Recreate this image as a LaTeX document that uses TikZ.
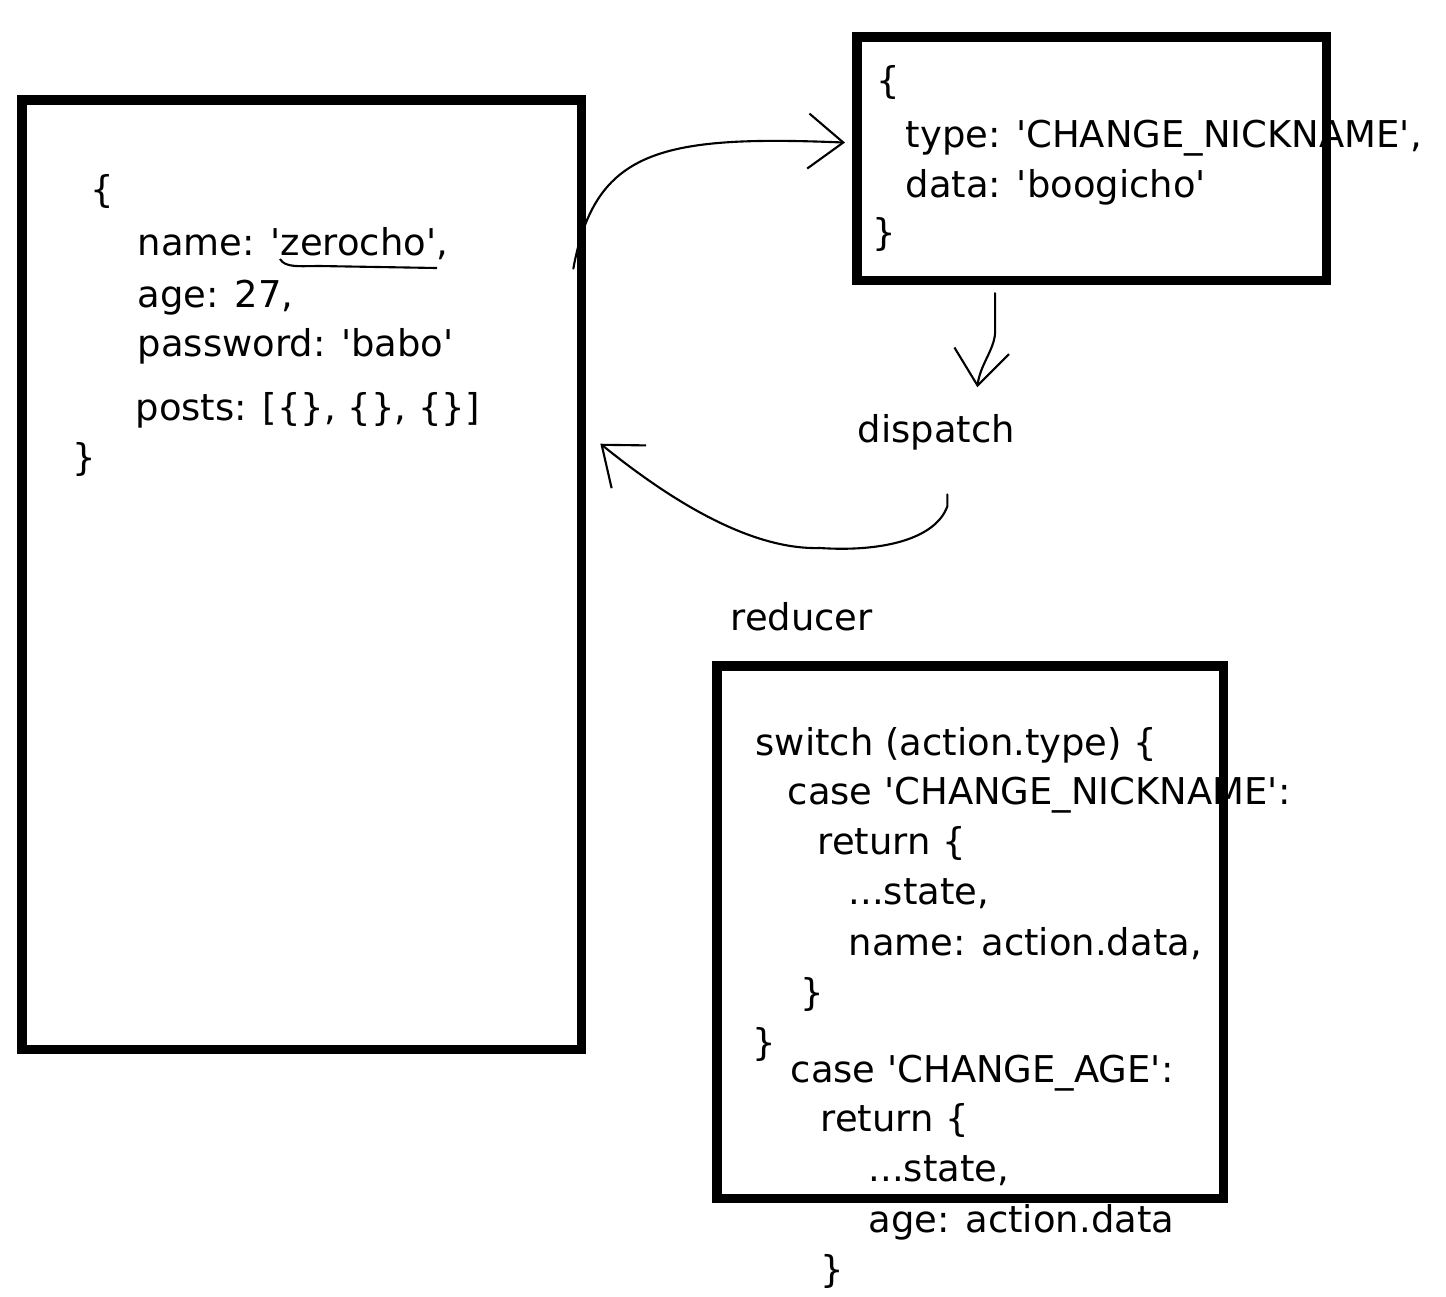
\documentclass[tikz,border=0pt]{standalone}
\usepackage{fontspec}
\newfontfamily\codefont{DejaVu Sans}
\usetikzlibrary{arrows.meta}

\tikzset{
  code/.style={font=\codefont\fontsize{10.5}{12}\selectfont, anchor=base west, inner sep=0pt},
  box/.style={draw, line width=2.6pt, inner sep=0pt, outer sep=0pt, anchor=north west},
  sketch/.style={->, line width=0.6pt, line cap=round}
}

\begin{document}
\begin{tikzpicture}[x=0.01cm, y=-0.01cm, >={Straight Barb[length=3.5mm,width=5.5mm]}]
\useasboundingbox (0,0) rectangle (1446,1296);

% state
\node[code] (st1) at (90,202) {\{};
\node[code] (st2) at (137,255) {name: 'zerocho',};
\node[code] (st3) at (137,307) {age: 27,};
\node[code] (st4) at (137,356) {password: 'babo'};
\node[code] (st5) at (135,420) {posts: [\{\}, \{\}, \{\}]};
\node[code] (st6) at (72,470) {\}};
\draw[line width=0.6pt] (280,259) .. controls (285,268) and (300,266) .. (320,266) -- (437,268);
\node[box, minimum width=5.59cm, minimum height=9.49cm] (state) at (22,100) {};

% action
\node[code] (ac1) at (876,93) {\{};
\node[code] (ac2) at (905,147) {type: 'CHANGE\_NICKNAME',};
\node[code] (ac3) at (905,197) {data: 'boogicho'};
\node[code] (ac4) at (872,245) {\}};
\node[box, minimum width=4.69cm, minimum height=2.43cm] (action) at (857,37) {};

\node[code] (dispatch) at (857,442) {dispatch};
\node[code] (reducer) at (730,630) {reducer};

% reducer
\node[code] (rd1) at (755,755) {switch (action.type) \{};
\node[code] (rd2) at (787,804) {case 'CHANGE\_NICKNAME':};
\node[code] (rd3) at (817,854) {return \{};
\node[code] (rd4) at (848,904) {...state,};
\node[code] (rd5) at (848,955) {name: action.data,};
\node[code] (rd6) at (800,1005) {\}};
\node[code] (rd7) at (752,1055) {\}};
\node[code] (rd8) at (790,1082) {case 'CHANGE\_AGE':};
\node[code] (rd9) at (820,1131) {return \{};
\node[code] (rd10) at (868,1181) {...state,};
\node[code] (rd11) at (868,1232) {age: action.data};
\node[code] (rd12) at (820,1282) {\}};
\node[box, minimum width=5.06cm, minimum height=5.32cm] (reducerbox) at (717,666) {};

% arrows
\draw[sketch] ([xshift=-0.8mm,yshift=30.6mm]state.east) .. controls (595,150) and (660,135) .. ([xshift=-1.2mm,yshift=1.6mm]action.west);
\draw[sketch] ([xshift=-9.65mm,yshift=-1.3mm]action.south) -- ++(0,40) .. controls (994,350) and (980,365) .. ([xshift=4.1mm,yshift=2.6mm]dispatch.north);
\draw[sketch] ([xshift=1.1mm,yshift=-4.4mm]dispatch.south) -- ++(0,12) .. controls (935,540) and (880,552) .. (820,548) .. controls (750,550) and (670,500) .. ([xshift=1.9mm,yshift=13.1mm]state.east);
\end{tikzpicture}
\end{document}
